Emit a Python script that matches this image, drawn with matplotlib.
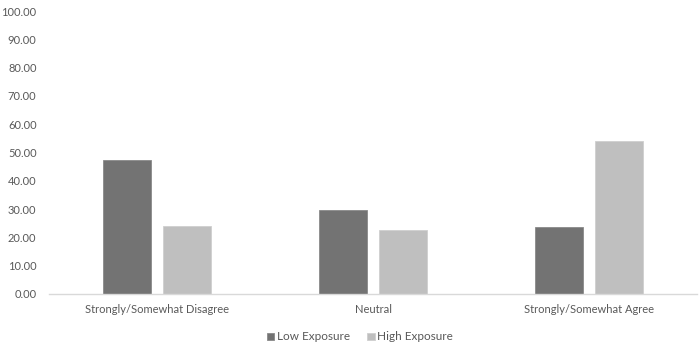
import matplotlib
matplotlib.use("Agg")
import matplotlib.pyplot as plt
import numpy as np

categories = ["Strongly/Somewhat Disagree", "Neutral", "Strongly/Somewhat Agree"]
low_exposure = [47.3, 29.6, 23.6]
high_exposure = [24.1, 22.5, 53.9]
series_names = ["Low Exposure", "High Exposure"]
yticks = [0, 10, 20, 30, 40, 50, 60, 70, 80, 90, 100]

plt.rcParams['font.family'] = ['Lato', 'DejaVu Sans']
fig = plt.figure(figsize=(7, 3.5), dpi=100)
ax = fig.add_axes([49/700, 56/350, 648/700, 283/350])

x = np.arange(len(categories))
w = 0.222
off = 0.141
ax.bar(x - off, low_exposure, w, color="#737373", edgecolor="#8a8a8a", linewidth=0.6, label=series_names[0])
ax.bar(x + off, high_exposure, w, color="#bfbfbf", edgecolor="#cfcfcf", linewidth=0.6, label=series_names[1])

ax.set_xlim(-0.5, 2.5)
ax.set_ylim(0, 100)
ax.set_yticks(yticks)
ax.set_yticklabels([f"{v:.2f}" for v in yticks], color="#595959", fontsize=8)
ax.set_xticks(x)
ax.set_xticklabels(categories, color="#595959", fontsize=8)
ax.tick_params(axis='both', length=0)
ax.tick_params(axis='y', pad=9)
ax.tick_params(axis='x', pad=7)
for s in ["top", "right", "left"]:
    ax.spines[s].set_visible(False)
ax.spines["bottom"].set_color("#d9d9d9")
ax.spines["bottom"].set_linewidth(1)

leg = fig.legend(loc="center", bbox_to_anchor=(360/700, 1 - 337/350), ncol=2, frameon=False,
                 fontsize=8.5, handlelength=0.6, handleheight=0.6, handletextpad=0.2, columnspacing=1.5)
for t in leg.get_texts():
    t.set_color("#595959")

fig.savefig("out.png", dpi=100)
